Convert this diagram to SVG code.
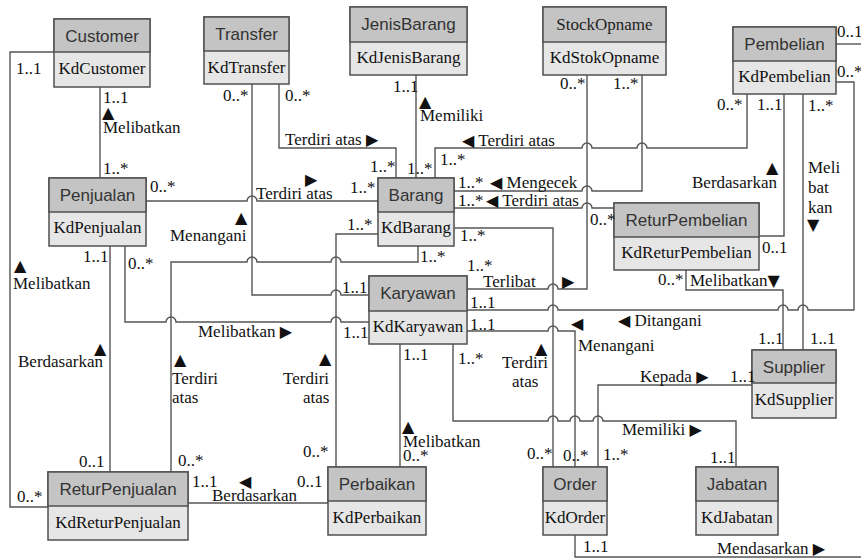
<svg xmlns="http://www.w3.org/2000/svg" width="861" height="560" viewBox="0 0 861 560">
<style>
.bx{fill:#e6e6e6;stroke:#505050;stroke-width:1.5}
.hd{fill:#c4c4c4;stroke:#505050;stroke-width:1.5}
.ht{font-family:"Liberation Sans",Arial,sans-serif;font-size:17px;fill:#333;text-anchor:middle}
.hs{font-family:"Liberation Serif","Times New Roman",serif;font-size:17px;fill:#222;text-anchor:middle}
.bt{font-family:"Liberation Serif","Times New Roman",serif;font-size:17px;fill:#111;text-anchor:middle}
.c path{fill:none;stroke:#555;stroke-width:1.4}
.l{font-family:"Liberation Serif","Times New Roman","DejaVu Sans",serif;font-size:17px;fill:#111}
.t{font-family:"DejaVu Sans",sans-serif;font-size:16px}
</style>
<rect width="861" height="560" fill="#fff"/>
<g class="c" id="connectors">
<path d="M100 87V178"/>
<path d="M54 52H10V507H48"/>
<path d="M110 246V472"/>
<path d="M146 201H247A5 5 0 0 1 257 201H378"/>
<path d="M279 84V148H396V178"/>
<path d="M252 84V295H331A5 5 0 0 1 341 295H369"/>
<path d="M416 75V178"/>
<path d="M467 289H548A5 5 0 0 1 558 289H587V75"/>
<path d="M454 191H582A5 5 0 0 1 592 191H642V75"/>
<path d="M435 178V148H582A5 5 0 0 1 592 148H637A5 5 0 0 1 647 148H747V94"/>
<path d="M454 208H582A5 5 0 0 1 592 208H614"/>
<path d="M454 228H553V467"/>
<path d="M378 234H336V467"/>
<path d="M171 472V262H247A5 5 0 0 1 257 262H331A5 5 0 0 1 341 262H418V246"/>
<path d="M125 246V322H166A5 5 0 0 1 176 322H331A5 5 0 0 1 341 322H369"/>
<path d="M784 94V236H759"/>
<path d="M803 94V350"/>
<path d="M467 310H548A5 5 0 0 1 558 310H778A5 5 0 0 1 788 310H798A5 5 0 0 1 808 310H854V82H836"/>
<path d="M686 270V290H783V350"/>
<path d="M467 331H548A5 5 0 0 1 558 331H575V467"/>
<path d="M400 344V467"/>
<path d="M453 344V421H548A5 5 0 0 1 558 421H570A5 5 0 0 1 580 421H593A5 5 0 0 1 603 421H736V467"/>
<path d="M598 467V385H752"/>
<path d="M575 535V557H861"/>
<path d="M836 44H861"/>
<path d="M188 503H328"/>
</g>
<g id="Customer"><rect class="bx" x="54" y="19" width="96" height="68"/><rect class="hd" x="54" y="19" width="96" height="33"/><text class="ht" x="102" y="42">Customer</text><text class="bt" x="102" y="74">KdCustomer</text></g>
<g id="Transfer"><rect class="bx" x="204" y="17" width="85" height="67"/><rect class="hd" x="204" y="17" width="85" height="34"/><text class="ht" x="246.5" y="40">Transfer</text><text class="bt" x="246.5" y="73">KdTransfer</text></g>
<g id="JenisBarang"><rect class="bx" x="350" y="7" width="117" height="68"/><rect class="hd" x="350" y="7" width="117" height="35"/><text class="ht" x="408.5" y="30">JenisBarang</text><text class="bt" x="408.5" y="63">KdJenisBarang</text></g>
<g id="StockOpname"><rect class="bx" x="543" y="7" width="123" height="68"/><rect class="hd" x="543" y="7" width="123" height="35"/><text class="hs" x="604.5" y="30">StockOpname</text><text class="bt" x="604.5" y="63">KdStokOpname</text></g>
<g id="Pembelian"><rect class="bx" x="733" y="27" width="103" height="67"/><rect class="hd" x="733" y="27" width="103" height="34"/><text class="ht" x="784.5" y="50">Pembelian</text><text class="bt" x="784.5" y="82">KdPembelian</text></g>
<g id="Penjualan"><rect class="bx" x="49" y="178" width="97" height="68"/><rect class="hd" x="49" y="178" width="97" height="34"/><text class="ht" x="97.5" y="201">Penjualan</text><text class="bt" x="97.5" y="233">KdPenjualan</text></g>
<g id="Barang"><rect class="bx" x="378" y="178" width="76" height="68"/><rect class="hd" x="378" y="178" width="76" height="34"/><text class="ht" x="416" y="201">Barang</text><text class="bt" x="416" y="233">KdBarang</text></g>
<g id="ReturPembelian"><rect class="bx" x="614" y="203" width="145" height="67"/><rect class="hd" x="614" y="203" width="145" height="34"/><text class="ht" x="686.5" y="226">ReturPembelian</text><text class="bt" x="686.5" y="258">KdReturPembelian</text></g>
<g id="Karyawan"><rect class="bx" x="369" y="276" width="98" height="68"/><rect class="hd" x="369" y="276" width="98" height="35"/><text class="ht" x="418" y="299">Karyawan</text><text class="bt" x="418" y="332">KdKaryawan</text></g>
<g id="Supplier"><rect class="bx" x="752" y="350" width="84" height="68"/><rect class="hd" x="752" y="350" width="84" height="33"/><text class="ht" x="794" y="373">Supplier</text><text class="bt" x="794" y="405">KdSupplier</text></g>
<g id="ReturPenjualan"><rect class="bx" x="48" y="472" width="140" height="68"/><rect class="hd" x="48" y="472" width="140" height="34"/><text class="ht" x="118" y="495">ReturPenjualan</text><text class="bt" x="118" y="528">KdReturPenjualan</text></g>
<g id="Perbaikan"><rect class="bx" x="328" y="467" width="98" height="68"/><rect class="hd" x="328" y="467" width="98" height="34"/><text class="ht" x="377" y="490">Perbaikan</text><text class="bt" x="377" y="523">KdPerbaikan</text></g>
<g id="Order"><rect class="bx" x="543" y="467" width="64" height="68"/><rect class="hd" x="543" y="467" width="64" height="34"/><text class="ht" x="575" y="490">Order</text><text class="bt" x="575" y="523">KdOrder</text></g>
<g id="Jabatan"><rect class="bx" x="696" y="467" width="82" height="68"/><rect class="hd" x="696" y="467" width="82" height="34"/><text class="ht" x="737" y="490">Jabatan</text><text class="bt" x="737" y="523">KdJabatan</text></g>
<g id="labels">
<text class="l" x="16" y="74">1..1</text>
<text class="l" x="103" y="103">1..1</text>
<text class="l t" x="102" y="118">▲</text>
<text class="l" x="103" y="133">Melibatkan</text>
<text class="l" x="103" y="174">1..*</text>
<text class="l" x="150" y="192">0..*</text>
<text class="l t" x="305" y="185">▶</text>
<text class="l" x="256" y="199">Terdiri atas</text>
<text class="l" x="350" y="193">1..*</text>
<text class="l" x="223" y="101">0..*</text>
<text class="l" x="285" y="101">0..*</text>
<text class="l" x="285" y="145">Terdiri atas <tspan class="t">▶</tspan></text>
<text class="l" x="370" y="172">1..*</text>
<text class="l" x="393" y="92">1..1</text>
<text class="l t" x="419" y="107">▲</text>
<text class="l" x="420" y="121">Memiliki</text>
<text class="l" x="407" y="174">1..*</text>
<text class="l" x="560" y="89">0..*</text>
<text class="l" x="613" y="89">1..*</text>
<text class="l" x="462" y="146"><tspan class="t">◀</tspan> Terdiri atas</text>
<text class="l" x="440" y="165">1..*</text>
<text class="l" x="717" y="110">0..*</text>
<text class="l" x="757" y="110">1..1</text>
<text class="l" x="808" y="111">1..*</text>
<text class="l" x="837" y="37">0..1</text>
<text class="l" x="837" y="77">0..*</text>
<text class="l t" x="766" y="173">▲</text>
<text class="l" x="692" y="188">Berdasarkan</text>
<text class="l" x="808" y="173">Meli</text>
<text class="l" x="808" y="193">bat</text>
<text class="l" x="808" y="213">kan</text>
<text class="l t" x="807" y="230">▼</text>
<text class="l" x="458" y="188">1..*</text>
<text class="l" x="490" y="188"><tspan class="t">◀</tspan> Mengecek</text>
<text class="l" x="458" y="206">1..*</text>
<text class="l" x="486" y="206"><tspan class="t">◀</tspan> Terdiri atas</text>
<text class="l" x="590" y="225">0..*</text>
<text class="l" x="762" y="253">0..1</text>
<text class="l" x="460" y="241">1..*</text>
<text class="l" x="347" y="230">1..*</text>
<text class="l" x="420" y="262">1..*</text>
<text class="l t" x="235" y="223">▲</text>
<text class="l" x="170" y="241">Menangani</text>
<text class="l" x="342" y="293">1..1</text>
<text class="l t" x="14" y="271">▲</text>
<text class="l" x="13" y="289">Melibatkan</text>
<text class="l" x="83" y="262">1..1</text>
<text class="l" x="128" y="269">0..*</text>
<text class="l t" x="94" y="354">▲</text>
<text class="l" x="18" y="367">Berdasarkan</text>
<text class="l" x="79" y="467">0..1</text>
<text class="l" x="17" y="502">0..*</text>
<text class="l" x="198" y="337">Melibatkan <tspan class="t">▶</tspan></text>
<text class="l" x="343" y="338">1..1</text>
<text class="l t" x="174" y="365">▲</text>
<text class="l" x="172" y="384">Terdiri</text>
<text class="l" x="172" y="403">atas</text>
<text class="l" x="178" y="466">0..*</text>
<text class="l t" x="319" y="364">▲</text>
<text class="l" x="283" y="384">Terdiri</text>
<text class="l" x="303" y="403">atas</text>
<text class="l" x="303" y="457">0..*</text>
<text class="l" x="192" y="487">1..1</text>
<text class="l t" x="239" y="487">◀</text>
<text class="l" x="212" y="501">Berdasarkan</text>
<text class="l" x="297" y="487">0..1</text>
<text class="l" x="467" y="271">1..*</text>
<text class="l" x="483" y="287">Terlibat</text>
<text class="l t" x="562" y="287">▶</text>
<text class="l" x="470" y="308">1..1</text>
<text class="l" x="470" y="330">1..1</text>
<text class="l t" x="571" y="329">◀</text>
<text class="l" x="618" y="326"><tspan class="t">◀</tspan> Ditangani</text>
<text class="l" x="578" y="351">Menangani</text>
<text class="l" x="458" y="364">1..*</text>
<text class="l t" x="535" y="354">▲</text>
<text class="l" x="502" y="368">Terdiri</text>
<text class="l" x="512" y="387">atas</text>
<text class="l" x="403" y="360">1..1</text>
<text class="l t" x="402" y="432">▲</text>
<text class="l" x="403" y="447">Melibatkan</text>
<text class="l" x="403" y="461">0..*</text>
<text class="l" x="658" y="285">0..*</text>
<text class="l" x="690" y="286">Melibatkan<tspan class="t">▼</tspan></text>
<text class="l" x="758" y="344">1..1</text>
<text class="l" x="810" y="344">1..1</text>
<text class="l" x="640" y="382">Kepada <tspan class="t">▶</tspan></text>
<text class="l" x="730" y="382">1..1</text>
<text class="l" x="622" y="435">Memiliki <tspan class="t">▶</tspan></text>
<text class="l" x="710" y="463">1..1</text>
<text class="l" x="527" y="459">0..*</text>
<text class="l" x="563" y="461">0..*</text>
<text class="l" x="603" y="460">1..*</text>
<text class="l" x="583" y="552">1..1</text>
<text class="l" x="717" y="554">Mendasarkan <tspan class="t">▶</tspan></text>
</g>
</svg>
